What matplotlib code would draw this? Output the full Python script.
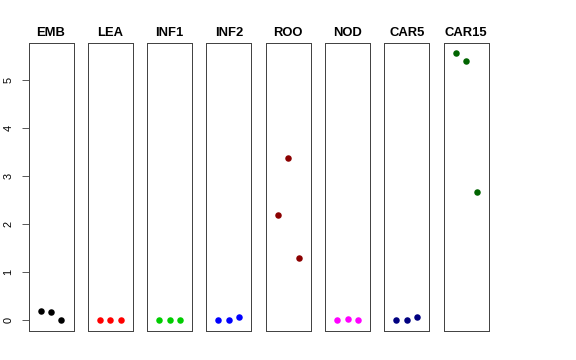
import matplotlib
matplotlib.use("Agg")
import matplotlib.pyplot as plt

plt.rcParams['font.family'] = ['Liberation Sans', 'DejaVu Sans']

tissues = ["EMB", "LEA", "INF1", "INF2", "ROO", "NOD", "CAR5", "CAR15"]
colors = ["black", "red", "#00CD00", "blue", "#8B0000", "magenta", "#000080", "#006400"]
values = {
    "EMB":   [0.20, 0.18, 0.00],
    "LEA":   [0.00, 0.00, 0.00],
    "INF1":  [0.00, 0.00, 0.00],
    "INF2":  [0.00, 0.00, 0.07],
    "ROO":   [2.19, 3.37, 1.30],
    "NOD":   [0.00, 0.02, 0.00],
    "CAR5":  [0.00, 0.00, 0.07],
    "CAR15": [5.55, 5.39, 2.66],
}
reps = [1, 2, 3]
yticks = [0, 1, 2, 3, 4, 5]

W, H = 576, 360
fig = plt.figure(figsize=(W / 72, H / 72), dpi=72)

allv = [v for t in tissues for v in values[t]]
ymin, ymax = min(allv), max(allv)
r = ymax - ymin
ylim = (ymin - 0.04 * r, ymax + 0.04 * r)

left0, step, pw = 28.5, 59.3, 45.0
top, bottom = 42.7, 331.0

for i, t in enumerate(tissues):
    x0 = left0 + i * step
    ax = fig.add_axes([x0 / W, (H - bottom) / H, pw / W, (bottom - top) / H])
    ax.plot(reps, values[t], 'o', color=colors[i], markersize=6.5, markeredgewidth=0)
    ax.set_xlim(-0.16, 4.16)
    ax.set_ylim(*ylim)
    ax.set_xticks([])
    for s in ax.spines.values():
        s.set_color('#444444')
        s.set_linewidth(1.0)
    ax.set_title(t, fontsize=13, fontweight='bold', pad=7)
    if i == 0:
        ax.set_yticks(yticks)
        ax.set_yticklabels([str(v) for v in yticks], rotation=90, va='center', fontsize=11)
        ax.tick_params(axis='y', length=7, width=0.8, pad=8, color='#333333')
    else:
        ax.set_yticks([])

fig.savefig("out.png", dpi=72)
